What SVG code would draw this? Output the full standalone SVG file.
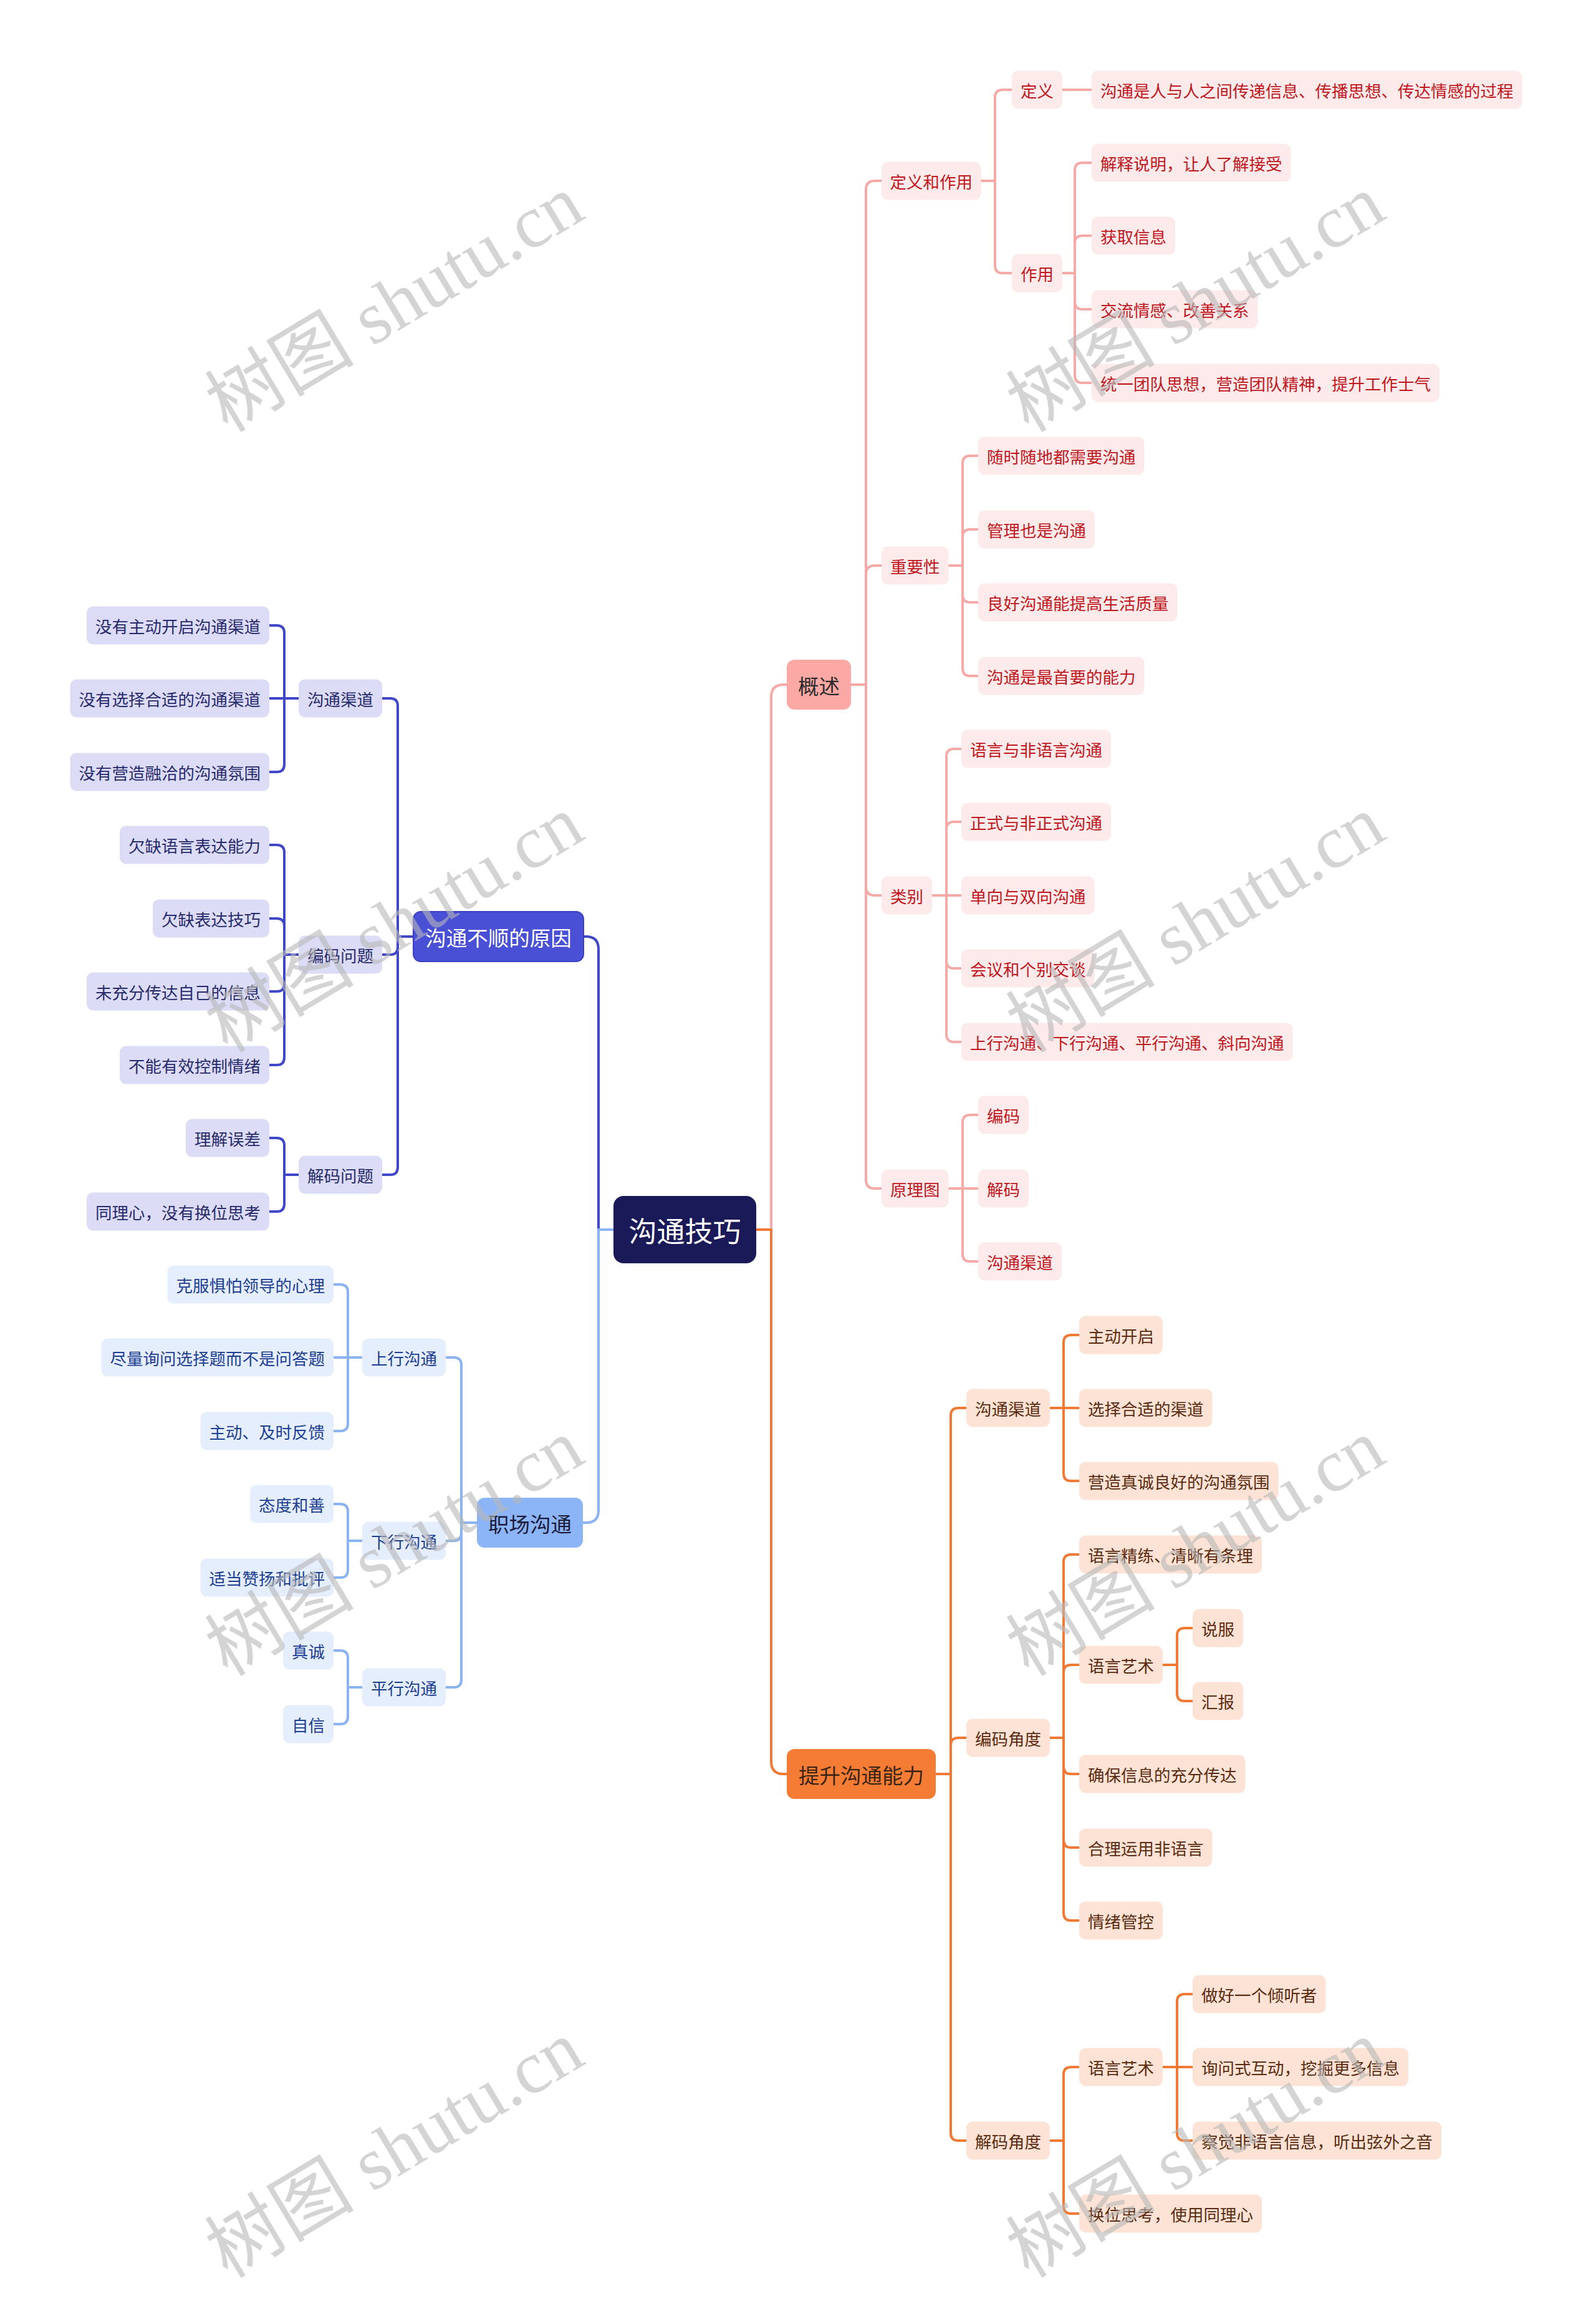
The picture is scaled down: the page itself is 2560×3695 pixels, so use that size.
<svg xmlns="http://www.w3.org/2000/svg" width="2560" height="3695" viewBox="0 0 2560 3695">
<style>
text{font-family:"Noto Sans CJK SC","Noto Sans",sans-serif;text-anchor:middle;dominant-baseline:central}
.s text{font-size:26.5px}
.l1 text{font-size:33.5px}
.c{fill:none;stroke-linecap:round;stroke-linejoin:round}
.cp{stroke:#f6aaa8;stroke-width:4}
.co{stroke:#f07a33;stroke-width:4}
.cb{stroke:#4048c8;stroke-width:4}
.cl{stroke:#8ab3f2;stroke-width:4}
.p rect{fill:#fdeaea}.p text{fill:#c0181e}
.o rect{fill:#fde3d5}.o text{fill:#5a2b10}
.b rect{fill:#dcdcf6}.b text{fill:#272b6b}
.lb rect{fill:#e5eefc}.lb text{fill:#1e3e92}
.wm{font-family:"Liberation Serif","Noto Sans CJK SC",serif;font-size:120px;fill:#b8b8b8;opacity:0.6;text-anchor:start;dominant-baseline:auto}
</style>
<rect width="2560" height="3695" fill="#ffffff"/>
<g id="connectors">
<g class="c cp">
<path d="M1213 1972H1237V1118Q1237 1098 1257 1098H1262"/>
<path d="M1365 1098H1389V304Q1389 290 1403 290H1414"/>
<path d="M1365 1098H1389V921Q1389 907 1403 907H1414"/>
<path d="M1365 1098H1389V1422Q1389 1436 1403 1436H1414"/>
<path d="M1365 1098H1389V1892Q1389 1906 1403 1906H1414"/>
<path d="M1571 290H1596V156Q1596 144 1608 144H1623"/>
<path d="M1571 290H1596V426Q1596 438 1608 438H1623"/>
<path d="M1702 144H1751"/>
<path d="M1702 438H1724V273Q1724 261 1736 261H1751"/>
<path d="M1702 438H1724V390Q1724 378 1736 378H1751"/>
<path d="M1702 438H1724V484Q1724 496 1736 496H1751"/>
<path d="M1702 438H1724V602Q1724 614 1736 614H1751"/>
<path d="M1521 907H1544V743Q1544 731 1556 731H1569"/>
<path d="M1521 907H1544V861Q1544 849 1556 849H1569"/>
<path d="M1521 907H1544V954Q1544 966 1556 966H1569"/>
<path d="M1521 907H1544V1072Q1544 1084 1556 1084H1569"/>
<path d="M1495 1436H1518V1213Q1518 1201 1530 1201H1542"/>
<path d="M1495 1436H1518V1330Q1518 1318 1530 1318H1542"/>
<path d="M1495 1436H1542"/>
<path d="M1495 1436H1518V1541Q1518 1553 1530 1553H1542"/>
<path d="M1495 1436H1518V1659Q1518 1671 1530 1671H1542"/>
<path d="M1521 1906H1544V1800Q1544 1788 1556 1788H1569"/>
<path d="M1521 1906H1569"/>
<path d="M1521 1906H1544V2011Q1544 2023 1556 2023H1569"/>
</g>
<g class="c co">
<path d="M1213 1972H1237V2825Q1237 2845 1257 2845H1262"/>
<path d="M1501 2845H1525V2270Q1525 2258 1537 2258H1550"/>
<path d="M1501 2845H1525V2799Q1525 2787 1537 2787H1550"/>
<path d="M1501 2845H1525V3421Q1525 3433 1537 3433H1550"/>
<path d="M1684 2258H1706V2153Q1706 2141 1718 2141H1731"/>
<path d="M1684 2258H1731"/>
<path d="M1684 2258H1706V2363Q1706 2375 1718 2375H1731"/>
<path d="M1684 2787H1706V2505Q1706 2493 1718 2493H1731"/>
<path d="M1684 2787H1706V2682Q1706 2670 1718 2670H1731"/>
<path d="M1684 2787H1706V2833Q1706 2845 1718 2845H1731"/>
<path d="M1684 2787H1706V2951Q1706 2963 1718 2963H1731"/>
<path d="M1684 2787H1706V3068Q1706 3080 1718 3080H1731"/>
<path d="M1865 2670H1888V2623Q1888 2611 1900 2611H1913"/>
<path d="M1865 2670H1888V2716Q1888 2728 1900 2728H1913"/>
<path d="M1684 3433H1706V3327Q1706 3315 1718 3315H1731"/>
<path d="M1684 3433H1706V3538Q1706 3550 1718 3550H1731"/>
<path d="M1865 3315H1888V3210Q1888 3198 1900 3198H1913"/>
<path d="M1865 3315H1913"/>
<path d="M1865 3315H1888V3421Q1888 3433 1900 3433H1913"/>
</g>
<g class="c cb">
<path d="M984 1972H960V1522Q960 1502 940 1502H936"/>
<path d="M663 1502H638V1132Q638 1120 626 1120H613"/>
<path d="M663 1502H638V1519Q638 1531 626 1531H613"/>
<path d="M663 1502H638V1872Q638 1884 626 1884H613"/>
<path d="M479 1120H456V1015Q456 1003 444 1003H432"/>
<path d="M479 1120H432"/>
<path d="M479 1120H456V1226Q456 1238 444 1238H432"/>
<path d="M479 1531H456V1367Q456 1355 444 1355H432"/>
<path d="M479 1531H456V1485Q456 1473 444 1473H432"/>
<path d="M479 1531H456V1578Q456 1590 444 1590H432"/>
<path d="M479 1531H456V1696Q456 1708 444 1708H432"/>
<path d="M479 1884H456V1837Q456 1825 444 1825H432"/>
<path d="M479 1884H456V1931Q456 1943 444 1943H432"/>
</g>
<g class="c cl">
<path d="M984 1972H960V2422Q960 2442 940 2442H935"/>
<path d="M765 2442H740V2189Q740 2177 728 2177H715"/>
<path d="M765 2442H740V2459Q740 2471 728 2471H715"/>
<path d="M765 2442H740V2694Q740 2706 728 2706H715"/>
<path d="M581 2177H558V2072Q558 2060 546 2060H535"/>
<path d="M581 2177H535"/>
<path d="M581 2177H558V2283Q558 2295 546 2295H535"/>
<path d="M581 2471H558V2424Q558 2412 546 2412H535"/>
<path d="M581 2471H558V2518Q558 2530 546 2530H535"/>
<path d="M581 2706H558V2659Q558 2647 546 2647H535"/>
<path d="M581 2706H558V2753Q558 2765 546 2765H535"/>
</g>
</g>

<g id="root"><rect x="984" y="1918" width="229" height="108" rx="16" fill="#1b1a58"/><text x="1098.5" y="1972" font-size="45" fill="#ffffff">沟通技巧</text></g>

<g class="l1">
<g id="n-gaishu"><rect x="1262" y="1058" width="103" height="80" rx="12" fill="#fca8a4"/><text x="1313.5" y="1098" fill="#2b2b2b">概述</text></g>
<g id="n-tisheng"><rect x="1262" y="2805" width="239" height="80" rx="12" fill="#f47c34"/><text x="1381.5" y="2845" fill="#3b2414">提升沟通能力</text></g>
<g id="n-yuanyin"><rect x="663" y="1462" width="273" height="80" rx="12" fill="#4a50d6" stroke="#3b41c2" stroke-width="2"/><text x="799.5" y="1502" fill="#ffffff">沟通不顺的原因</text></g>
<g id="n-zhichang"><rect x="765" y="2402" width="170" height="80" rx="12" fill="#8cb5f8"/><text x="850" y="2442" fill="#1c1c3a">职场沟通</text></g>
</g>

<g class="s p">
<g id="p1"><rect x="1414" y="259.5" width="159.5" height="61" rx="10"/><text x="1493.75" y="290">定义和作用</text></g>
<g id="p2"><rect x="1623" y="113.5" width="81" height="61" rx="10"/><text x="1663.5" y="144">定义</text></g>
<g id="p3"><rect x="1751" y="113.5" width="690.5" height="61" rx="10"/><text x="2096.25" y="144">沟通是人与人之间传递信息、传播思想、传达情感的过程</text></g>
<g id="p4"><rect x="1623" y="407.5" width="81" height="61" rx="10"/><text x="1663.5" y="438">作用</text></g>
<g id="p5"><rect x="1751" y="230.5" width="319.5" height="61" rx="10"/><text x="1910.75" y="261">解释说明，让人了解接受</text></g>
<g id="p6"><rect x="1751" y="347.5" width="134" height="61" rx="10"/><text x="1818" y="378">获取信息</text></g>
<g id="p7"><rect x="1751" y="465.5" width="266.5" height="61" rx="10"/><text x="1884.25" y="496">交流情感、改善关系</text></g>
<g id="p8"><rect x="1751" y="583.5" width="558" height="61" rx="10"/><text x="2030" y="614">统一团队思想，营造团队精神，提升工作士气</text></g>
<g id="p9"><rect x="1414" y="876.5" width="107.5" height="61" rx="10"/><text x="1467.75" y="907">重要性</text></g>
<g id="p10"><rect x="1569" y="700.5" width="266.5" height="61" rx="10"/><text x="1702.25" y="731">随时随地都需要沟通</text></g>
<g id="p11"><rect x="1569" y="818.5" width="187" height="61" rx="10"/><text x="1662.5" y="849">管理也是沟通</text></g>
<g id="p12"><rect x="1569" y="935.5" width="319.5" height="61" rx="10"/><text x="1728.75" y="966">良好沟通能提高生活质量</text></g>
<g id="p13"><rect x="1569" y="1053.5" width="266.5" height="61" rx="10"/><text x="1702.25" y="1084">沟通是最首要的能力</text></g>
<g id="p14"><rect x="1414" y="1405.5" width="81" height="61" rx="10"/><text x="1454.5" y="1436">类别</text></g>
<g id="p15"><rect x="1542" y="1170.5" width="240" height="61" rx="10"/><text x="1662" y="1201">语言与非语言沟通</text></g>
<g id="p16"><rect x="1542" y="1287.5" width="240" height="61" rx="10"/><text x="1662" y="1318">正式与非正式沟通</text></g>
<g id="p17"><rect x="1542" y="1405.5" width="213.5" height="61" rx="10"/><text x="1648.75" y="1436">单向与双向沟通</text></g>
<g id="p18"><rect x="1542" y="1522.5" width="213.5" height="61" rx="10"/><text x="1648.75" y="1553">会议和个别交谈</text></g>
<g id="p19"><rect x="1542" y="1640.5" width="531.5" height="61" rx="10"/><text x="1807.75" y="1671">上行沟通、下行沟通、平行沟通、斜向沟通</text></g>
<g id="p20"><rect x="1414" y="1875.5" width="107.5" height="61" rx="10"/><text x="1467.75" y="1906">原理图</text></g>
<g id="p21"><rect x="1569" y="1757.5" width="81" height="61" rx="10"/><text x="1609.5" y="1788">编码</text></g>
<g id="p22"><rect x="1569" y="1875.5" width="81" height="61" rx="10"/><text x="1609.5" y="1906">解码</text></g>
<g id="p23"><rect x="1569" y="1992.5" width="134" height="61" rx="10"/><text x="1636" y="2023">沟通渠道</text></g>
</g>

<g class="s o">
<g id="o1"><rect x="1550" y="2227.5" width="134" height="61" rx="10"/><text x="1617" y="2258">沟通渠道</text></g>
<g id="o2"><rect x="1731" y="2110.5" width="134" height="61" rx="10"/><text x="1798" y="2141">主动开启</text></g>
<g id="o3"><rect x="1731" y="2227.5" width="213.5" height="61" rx="10"/><text x="1837.75" y="2258">选择合适的渠道</text></g>
<g id="o4"><rect x="1731" y="2344.5" width="319.5" height="61" rx="10"/><text x="1890.75" y="2375">营造真诚良好的沟通氛围</text></g>
<g id="o5"><rect x="1550" y="2756.5" width="134" height="61" rx="10"/><text x="1617" y="2787">编码角度</text></g>
<g id="o6"><rect x="1731" y="2462.5" width="293" height="61" rx="10"/><text x="1877.5" y="2493">语言精练、清晰有条理</text></g>
<g id="o7"><rect x="1731" y="2639.5" width="134" height="61" rx="10"/><text x="1798" y="2670">语言艺术</text></g>
<g id="o8"><rect x="1913" y="2580.5" width="81" height="61" rx="10"/><text x="1953.5" y="2611">说服</text></g>
<g id="o9"><rect x="1913" y="2697.5" width="81" height="61" rx="10"/><text x="1953.5" y="2728">汇报</text></g>
<g id="o10"><rect x="1731" y="2814.5" width="266.5" height="61" rx="10"/><text x="1864.25" y="2845">确保信息的充分传达</text></g>
<g id="o11"><rect x="1731" y="2932.5" width="213.5" height="61" rx="10"/><text x="1837.75" y="2963">合理运用非语言</text></g>
<g id="o12"><rect x="1731" y="3049.5" width="134" height="61" rx="10"/><text x="1798" y="3080">情绪管控</text></g>
<g id="o13"><rect x="1550" y="3402.5" width="134" height="61" rx="10"/><text x="1617" y="3433">解码角度</text></g>
<g id="o14"><rect x="1731" y="3284.5" width="134" height="61" rx="10"/><text x="1798" y="3315">语言艺术</text></g>
<g id="o15"><rect x="1913" y="3167.5" width="213.5" height="61" rx="10"/><text x="2019.75" y="3198">做好一个倾听者</text></g>
<g id="o16"><rect x="1913" y="3284.5" width="346" height="61" rx="10"/><text x="2086" y="3315">询问式互动，挖掘更多信息</text></g>
<g id="o17"><rect x="1913" y="3402.5" width="399" height="61" rx="10"/><text x="2112.5" y="3433">察觉非语言信息，听出弦外之音</text></g>
<g id="o18"><rect x="1731" y="3519.5" width="293" height="61" rx="10"/><text x="1877.5" y="3550">换位思考，使用同理心</text></g>
</g>

<g class="s b">
<g id="b1"><rect x="479" y="1089.5" width="134" height="61" rx="10"/><text x="546" y="1120">沟通渠道</text></g>
<g id="b2"><rect x="139" y="972.5" width="293" height="61" rx="10"/><text x="285.5" y="1003">没有主动开启沟通渠道</text></g>
<g id="b3"><rect x="112.5" y="1089.5" width="319.5" height="61" rx="10"/><text x="272.25" y="1120">没有选择合适的沟通渠道</text></g>
<g id="b4"><rect x="112.5" y="1207.5" width="319.5" height="61" rx="10"/><text x="272.25" y="1238">没有营造融洽的沟通氛围</text></g>
<g id="b5"><rect x="479" y="1500.5" width="134" height="61" rx="10"/><text x="546" y="1531">编码问题</text></g>
<g id="b6"><rect x="192" y="1324.5" width="240" height="61" rx="10"/><text x="312" y="1355">欠缺语言表达能力</text></g>
<g id="b7"><rect x="245" y="1442.5" width="187" height="61" rx="10"/><text x="338.5" y="1473">欠缺表达技巧</text></g>
<g id="b8"><rect x="139" y="1559.5" width="293" height="61" rx="10"/><text x="285.5" y="1590">未充分传达自己的信息</text></g>
<g id="b9"><rect x="192" y="1677.5" width="240" height="61" rx="10"/><text x="312" y="1708">不能有效控制情绪</text></g>
<g id="b10"><rect x="479" y="1853.5" width="134" height="61" rx="10"/><text x="546" y="1884">解码问题</text></g>
<g id="b11"><rect x="298" y="1794.5" width="134" height="61" rx="10"/><text x="365" y="1825">理解误差</text></g>
<g id="b12"><rect x="139" y="1912.5" width="293" height="61" rx="10"/><text x="285.5" y="1943">同理心，没有换位思考</text></g>
</g>

<g class="s lb">
<g id="l1"><rect x="581" y="2146.5" width="134" height="61" rx="10"/><text x="648" y="2177">上行沟通</text></g>
<g id="l2"><rect x="268.5" y="2029.5" width="266.5" height="61" rx="10"/><text x="401.75" y="2060">克服惧怕领导的心理</text></g>
<g id="l3"><rect x="162.5" y="2146.5" width="372.5" height="61" rx="10"/><text x="348.75" y="2177">尽量询问选择题而不是问答题</text></g>
<g id="l4"><rect x="321.5" y="2264.5" width="213.5" height="61" rx="10"/><text x="428.25" y="2295">主动、及时反馈</text></g>
<g id="l5"><rect x="581" y="2440.5" width="134" height="61" rx="10"/><text x="648" y="2471">下行沟通</text></g>
<g id="l6"><rect x="401" y="2381.5" width="134" height="61" rx="10"/><text x="468" y="2412">态度和善</text></g>
<g id="l7"><rect x="321.5" y="2499.5" width="213.5" height="61" rx="10"/><text x="428.25" y="2530">适当赞扬和批评</text></g>
<g id="l8"><rect x="581" y="2675.5" width="134" height="61" rx="10"/><text x="648" y="2706">平行沟通</text></g>
<g id="l9"><rect x="454" y="2616.5" width="81" height="61" rx="10"/><text x="494.5" y="2647">真诚</text></g>
<g id="l10"><rect x="454" y="2734.5" width="81" height="61" rx="10"/><text x="494.5" y="2765">自信</text></g>
</g>

<g id="watermarks">
<text class="wm" transform="translate(365 695) rotate(-31)">树图 shutu.cn</text>
<text class="wm" transform="translate(1650 695) rotate(-31)">树图 shutu.cn</text>
<text class="wm" transform="translate(365 1690) rotate(-31)">树图 shutu.cn</text>
<text class="wm" transform="translate(1650 1690) rotate(-31)">树图 shutu.cn</text>
<text class="wm" transform="translate(365 2690) rotate(-31)">树图 shutu.cn</text>
<text class="wm" transform="translate(1650 2690) rotate(-31)">树图 shutu.cn</text>
<text class="wm" transform="translate(365 3655) rotate(-31)">树图 shutu.cn</text>
<text class="wm" transform="translate(1650 3655) rotate(-31)">树图 shutu.cn</text>
</g>
</svg>
